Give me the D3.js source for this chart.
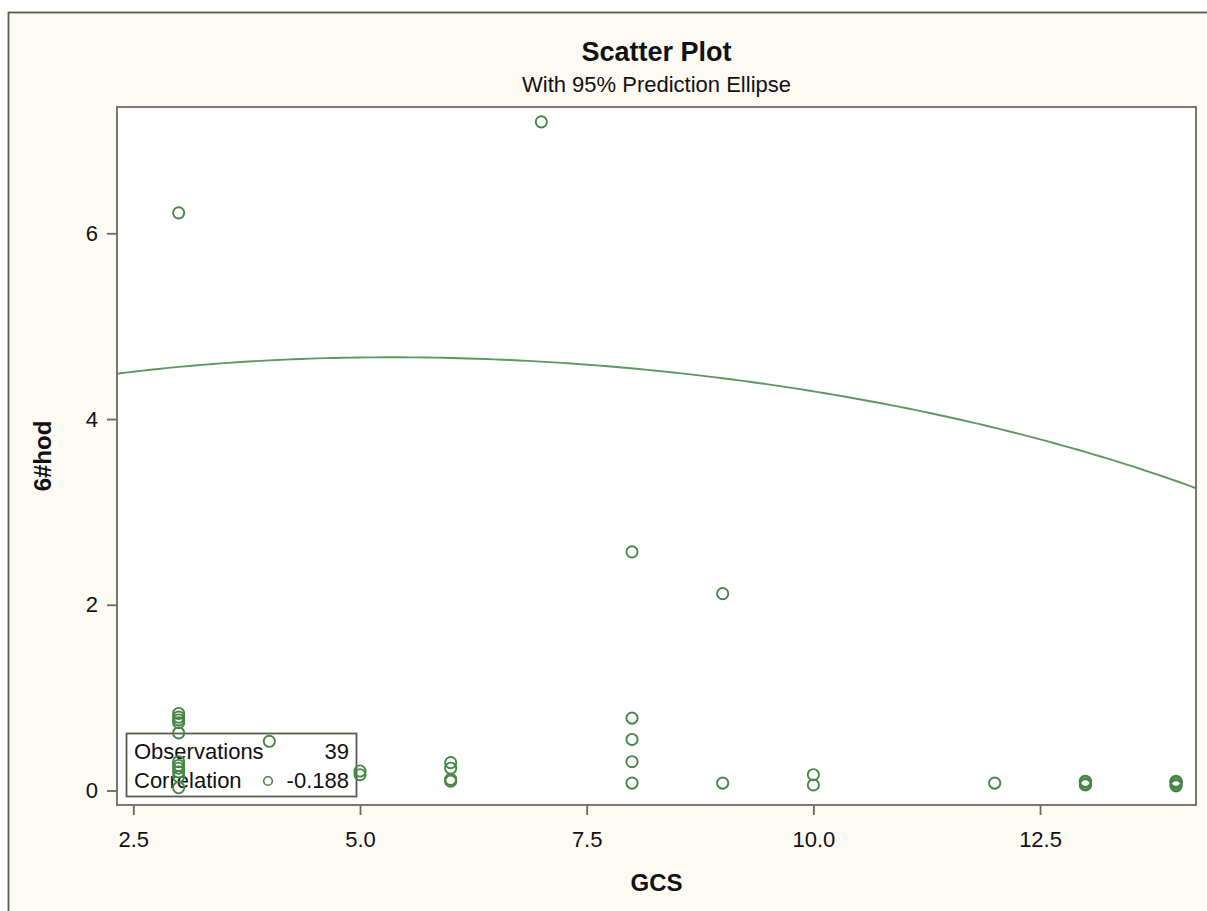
<!DOCTYPE html>
<html>
<head>
<meta charset="utf-8">
<script src="https://cdn.jsdelivr.net/npm/d3@7"></script>
<style>
  html, body { margin: 0; padding: 0; background: #ffffff; }
  svg { display: block; }
  text { font-family: "Liberation Sans", Arial, sans-serif; }
</style>
</head>
<body>
<svg id="chart" width="1207" height="911"></svg>
<script>
// GCS score per subject
const gcs = [
  3, 3, 3, 3, 3, 3, 3, 3, 3, 3, 3, 3,
  4,
  5, 5,
  6, 6, 6, 6,
  7,
  8, 8, 8, 8, 8,
  9, 9,
  10, 10,
  12,
  13, 13, 13, 13,
  14, 14, 14, 14, 14
];
// 6#hod value per subject
const hod6 = [
  6.22, 0.83, 0.79, 0.76, 0.73, 0.62, 0.31, 0.27, 0.24, 0.20, 0.15, 0.03,
  0.53,
  0.21, 0.17,
  0.30, 0.24, 0.12, 0.10,
  7.20,
  2.57, 0.78, 0.55, 0.31, 0.08,
  2.12, 0.08,
  0.17, 0.06,
  0.08,
  0.06, 0.07, 0.09, 0.10,
  0.05, 0.06, 0.08, 0.09, 0.10
];
const xTicks = [2.5, 5.0, 7.5, 10.0, 12.5];
const yTicks = [0, 2, 4, 6];
const legendLabels = ["Observations", "Correlation"];
const legendValues = ["39", "-0.188"];

const W = 1207, H = 911;
const plot = { left: 117, top: 107, right: 1196, bottom: 805 };
const green = "#468646";
const curveColor = "#5f985f";
const ink = "#111111";

const svg = d3.select("#chart");

// outer frame
svg.append("rect").attr("x", 8.5).attr("y", 12.5).attr("width", W).attr("height", H)
  .attr("fill", "#fcfaf3").attr("stroke", "#5b5a4f").attr("stroke-width", 1.8);

const x = d3.scaleLinear().domain([2.32, 14.22]).range([plot.left, plot.right]);
const y = d3.scaleLinear().domain([-0.156, 7.36]).range([plot.bottom, plot.top]);

// plot area
svg.append("rect").attr("x", plot.left).attr("y", plot.top)
  .attr("width", plot.right - plot.left).attr("height", plot.bottom - plot.top)
  .attr("fill", "#ffffff");

svg.append("clipPath").attr("id", "clip").append("rect")
  .attr("x", plot.left).attr("y", plot.top)
  .attr("width", plot.right - plot.left).attr("height", plot.bottom - plot.top);

// 95% prediction ellipse from the sample mean and covariance
const n = gcs.length;
const mx = d3.mean(gcs), my = d3.mean(hod6);
let sxx = 0, syy = 0, sxy = 0;
for (let i = 0; i < n; i++) {
  const dx = gcs[i] - mx, dy = hod6[i] - my;
  sxx += dx * dx; syy += dy * dy; sxy += dx * dy;
}
sxx /= (n - 1); syy /= (n - 1); sxy /= (n - 1);
const df2 = n - 2;
const fq = (df2 / 2) * (Math.pow(0.05, -2 / df2) - 1);           // F(0.95; 2, n-2)
const c = Math.sqrt(2 * (n - 1) * (n + 1) / (n * df2) * fq);
const l11 = Math.sqrt(sxx), l21 = sxy / l11, l22 = Math.sqrt(syy - l21 * l21);
const ellipse = d3.range(0, 721).map(k => {
  const t = k * Math.PI / 360, u = Math.cos(t), v = Math.sin(t);
  return [mx + c * l11 * u, my + c * (l21 * u + l22 * v)];
});
svg.append("path").datum(ellipse)
  .attr("clip-path", "url(#clip)")
  .attr("fill", "none").attr("stroke", curveColor).attr("stroke-width", 1.9)
  .attr("d", d3.line().x(d => x(d[0])).y(d => y(d[1])));

// inset statistics table
const lg = svg.append("g");
lg.append("rect").attr("x", 126.5).attr("y", 733.5).attr("width", 230).attr("height", 63)
  .attr("fill", "#ffffff").attr("stroke", "#5b5a4f").attr("stroke-width", 1.8);
legendLabels.forEach((t, i) => {
  lg.append("text").attr("x", 134).attr("y", 759 + i * 29).attr("font-size", 22)
    .attr("fill", ink).text(t);
  lg.append("text").attr("x", 349).attr("y", 759 + i * 29).attr("font-size", 22)
    .attr("text-anchor", "end").attr("fill", ink).text(legendValues[i]);
});
lg.append("circle").attr("cx", 268).attr("cy", 781).attr("r", 4.3)
  .attr("fill", "none").attr("stroke", green).attr("stroke-width", 1.6);

// observations
svg.append("g").selectAll("circle").data(gcs.map((g, i) => [g, hod6[i]])).join("circle")
  .attr("cx", d => x(d[0])).attr("cy", d => y(d[1])).attr("r", 5.6)
  .attr("fill", "none").attr("stroke", green).attr("stroke-width", 1.9);

// plot border
svg.append("rect").attr("x", plot.left).attr("y", plot.top)
  .attr("width", plot.right - plot.left).attr("height", plot.bottom - plot.top)
  .attr("fill", "none").attr("stroke", "#6b6a5e").attr("stroke-width", 1.8);

// axes
const xAxis = svg.append("g").attr("transform", `translate(0,${plot.bottom})`)
  .call(d3.axisBottom(x).tickValues(xTicks).tickFormat(d3.format(".1f"))
    .tickSizeOuter(0).tickSize(10).tickPadding(16));
const yAxis = svg.append("g").attr("transform", `translate(${plot.left},0)`)
  .call(d3.axisLeft(y).tickValues(yTicks).tickFormat(d3.format("d"))
    .tickSizeOuter(0).tickSize(10).tickPadding(9));
[xAxis, yAxis].forEach(a => {
  a.select(".domain").remove();
  a.selectAll(".tick line").attr("stroke", "#6b6a5e").attr("stroke-width", 1.8);
  a.selectAll(".tick text").attr("font-size", 22).attr("fill", ink)
    .style("font-family", "'Liberation Sans', Arial, sans-serif");
});

// axis titles
svg.append("text").attr("x", (plot.left + plot.right) / 2).attr("y", 891)
  .attr("text-anchor", "middle").attr("font-size", 24).attr("font-weight", "bold")
  .attr("fill", ink).text("GCS");
svg.append("text").attr("transform", `translate(51,${(plot.top + plot.bottom) / 2}) rotate(-90)`)
  .attr("text-anchor", "middle").attr("font-size", 24).attr("font-weight", "bold")
  .attr("fill", ink).text("6#hod");

// titles
svg.append("text").attr("x", (plot.left + plot.right) / 2).attr("y", 61)
  .attr("text-anchor", "middle").attr("font-size", 27).attr("font-weight", "bold")
  .attr("fill", ink).text("Scatter Plot");
svg.append("text").attr("x", (plot.left + plot.right) / 2).attr("y", 92)
  .attr("text-anchor", "middle").attr("font-size", 22)
  .attr("fill", ink).text("With 95% Prediction Ellipse");
</script>
</body>
</html>
